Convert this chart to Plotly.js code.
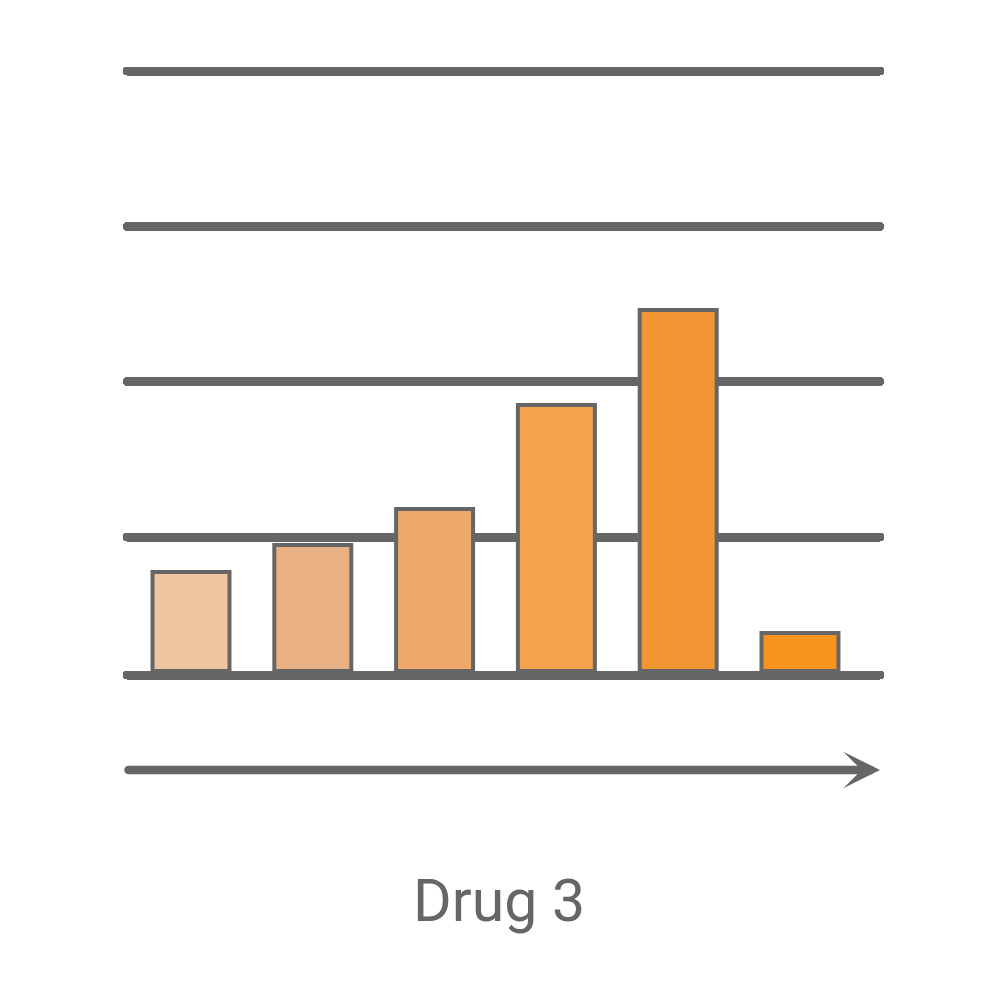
<!DOCTYPE html>
<html>
<head>
<meta charset="utf-8">
<script src="https://cdn.plot.ly/plotly-3.0.1.min.js"></script>
<style>
  html, body { margin: 0; padding: 0; background: #ffffff; }
  #chart { width: 1000px; height: 1000px; }
</style>
</head>
<body>
<div id="chart"></div>
<script>
// bar heights (arbitrary units, baseline = 0)
var categories = ['1', '2', '3', '4', '5', '6'];
var barValues = [99, 126, 162, 266, 361, 38];
var barColors = ['#EFC5A1', '#E9B183', '#EEA96B', '#F4A24D', '#F19633', '#F7941E'];

// horizontal rule levels, same units as the bars
var gridLevels = [-4, 134, 289.5, 444.5, 600];

var label = 'Drug 3';

var grey = '#666666';

var plotlyData = [
    {
        x: categories,
        y: barValues,
        type: 'bar',
        marker: {
            color: barColors,
            line: { color: grey, width: 4 }
        },
        hoverinfo: 'none'
    }
];

var plotlyLayout = {
    width: 1000,
    height: 1000,
    margin: { l: 0, r: 0, t: 0, b: 0, pad: 0 },
    paper_bgcolor: '#ffffff',
    plot_bgcolor: '#ffffff',
    showlegend: false,
    bargap: 0.368,
    xaxis: {
        type: 'category',
        domain: [0.127, 0.880],
        range: [-0.5255, 5.657],
        showgrid: false,
        zeroline: false,
        showline: false,
        showticklabels: false,
        ticks: '',
        fixedrange: true
    },
    yaxis: {
        domain: [0, 1],
        range: [-329, 671],
        tickmode: 'array',
        tickvals: gridLevels,
        showgrid: true,
        gridcolor: grey,
        gridwidth: 9,
        zeroline: false,
        showline: false,
        showticklabels: false,
        ticks: '',
        fixedrange: true
    },
    annotations: [
        {
            // the arrow under the chart
            xref: 'paper', yref: 'paper',
            x: 0.880, y: 0.23,
            axref: 'pixel', ayref: 'pixel',
            ax: -753, ay: 0,
            text: '',
            showarrow: true,
            arrowhead: 3,
            arrowsize: 0.72,
            arrowwidth: 8.5,
            arrowcolor: grey,
            standoff: 0
        },
        {
            xref: 'paper', yref: 'paper',
            x: 0.499, y: 0.1,
            xanchor: 'center', yanchor: 'middle',
            text: label,
            showarrow: false,
            font: { family: 'Roboto, sans-serif', size: 59, color: grey }
        }
    ]
};

var plotlyConfig = {
    displayModeBar: false,
    staticPlot: true
};

Plotly.newPlot('chart', plotlyData, plotlyLayout, plotlyConfig).then(function(gd) {
    // rounded ends on the rules and the arrow tail
    gd.querySelectorAll('.gridlayer path, .annotation-arrow-g path').forEach(function(p) {
        p.style.strokeLinecap = 'round';
    });
});
</script>
</body>
</html>
